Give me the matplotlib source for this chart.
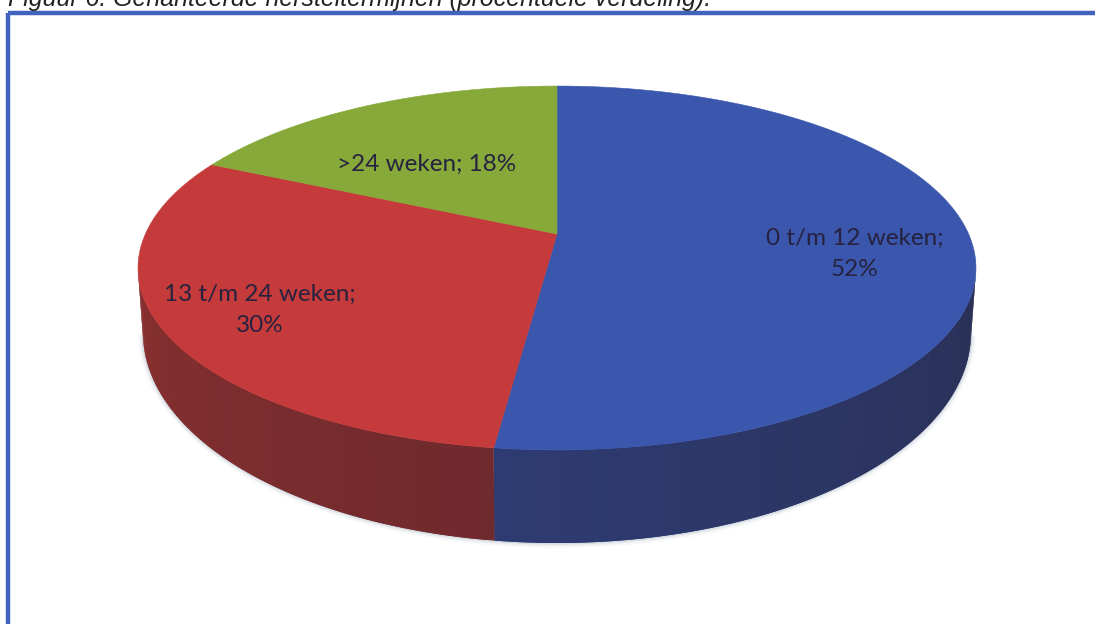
import numpy as np
import matplotlib
matplotlib.use("Agg")
import matplotlib.pyplot as plt
from matplotlib.patches import Polygon, Rectangle
from matplotlib.colors import to_rgb

# ---- data ----
categories = ["0 t/m 12 weken", "13 t/m 24 weken", ">24 weken"]
shares = [52, 30, 18]
top_colors = ["#3a56ad", "#c53a3a", "#86a93a"]
side_from = ["#2e3b72", "#6f2a2d", "#55691f"]
side_to = ["#2a3055", "#8a3030", "#55691f"]
title = "Figuur 6: Gehanteerde hersteltermijnen (procentuele verdeling)."
label_pos = [(855, 254), (260, 310), (427, 164)]
label_text = ["0 t/m 12 weken;\n52%", "13 t/m 24 weken;\n30%", ">24 weken; 18%"]

# ---- perspective model of the pie disc ----
CX, CY_TOP, A_TOP, R_TOP = 557, 234, 175.6, 411.6
K = 0.1868
BOT_RX, BOT_CY, BOT_RY = 414, 333, 210
TOP_RX = 419


def project(theta):
    c, d = np.sin(theta), -np.cos(theta)
    w = 1 - K * d
    return CX + R_TOP * c / w, CY_TOP + A_TOP * d / w


def lower(theta):
    xt, _ = project(theta)
    x = CX + (xt - CX) * BOT_RX / TOP_RX
    u = np.clip((x - CX) / BOT_RX, -1, 1)
    return x, BOT_CY + BOT_RY * np.sqrt(1 - u ** 2)


fig = plt.figure(figsize=(10.95, 6.24), dpi=100, facecolor="white")
ax = fig.add_axes([0, 0, 1, 1])
ax.set_xlim(0, 1095)
ax.set_ylim(624, 0)
ax.axis("off")

edges = np.cumsum([0] + shares) / sum(shares) * 2 * np.pi

# front arc range: between the two side extremes of the top ellipse
front_a = np.arccos(-K)          # right extreme (d = K)
front_b = 2 * np.pi - front_a    # left extreme

# soft shadow under the disc
tt = np.linspace(front_a, front_b, 300)
for grow, alpha in [(5, 0.06), (3, 0.10), (1.5, 0.18)]:
    lx, ly = lower(tt)
    sx = CX + (lx - CX) * (BOT_RX + grow) / BOT_RX
    sy = BOT_CY + (ly - BOT_CY) * (BOT_RY + grow) / BOT_RY
    ax.add_patch(Polygon(np.c_[sx, sy], closed=True, fc="#7f8fa8", ec="none",
                         alpha=alpha, zorder=1))

# side wall: overlapping strips so no seams show
for i in range(len(shares)):
    lo, hi = max(edges[i], front_a), min(edges[i + 1], front_b)
    if hi <= lo:
        continue
    th = np.linspace(lo, hi, 90)
    c0, c1 = np.array(to_rgb(side_from[i])), np.array(to_rgb(side_to[i]))
    for j in range(len(th) - 1):
        f = j / (len(th) - 2)
        # blue wall darkens towards the right, red lightens towards the left
        if i == 0:
            f = 1 - f
        col = c0 + (c1 - c0) * f
        seg = np.linspace(th[j], th[min(j + 2, len(th) - 1)], 4)
        xt, yt = project(seg)
        xb, yb = lower(seg)
        ax.add_patch(Polygon(np.r_[np.c_[xt, yt], np.c_[xb, yb][::-1]], closed=True,
                             fc=col, ec="none", zorder=2))

# top of the disc
for i in range(len(shares)):
    th = np.linspace(edges[i], edges[i + 1], 200)
    x, y = project(th)
    ax.add_patch(Polygon(np.r_[[[CX, CY_TOP]], np.c_[x, y]], closed=True,
                         fc=top_colors[i], ec=top_colors[i], lw=0.4, zorder=3))

# labels
for (lx, ly), t in zip(label_pos, label_text):
    ax.text(lx, ly, t, ha="center", va="center", fontsize=17.5, family="Lato",
            color="#26223f", linespacing=1.55, zorder=4)

# frame: right and bottom sides lie beyond the crop
ax.add_patch(Rectangle((8, 13), 1300, 800, fc="none", ec="#4263bb", lw=3.2, zorder=5))

# caption, cropped by the top edge as in the reference
ax.text(8, 6, title, ha="left", va="baseline", fontsize=17.9, style="italic",
        family="Liberation Sans", color="#222222", zorder=6, clip_on=False)

fig.savefig("out.png", dpi=100, facecolor="white")
